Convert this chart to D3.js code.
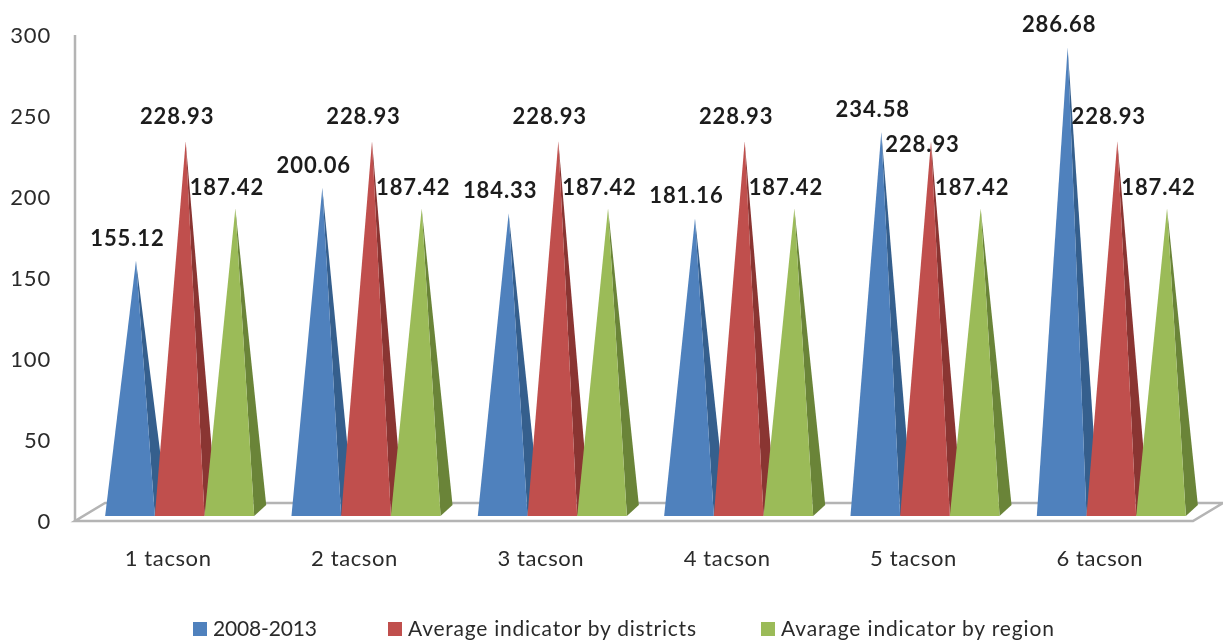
<!DOCTYPE html>
<html>
<head>
<meta charset="utf-8">
<script src="https://cdn.jsdelivr.net/npm/d3@7"></script>
<style>
    html, body { margin: 0; background: #fff; }
    svg { display: block; }
    text { font-family: Lato, sans-serif; fill: #2b2b2b; }
</style>
</head>
<body>
<svg></svg>
<script>
const [WIDTH, HEIGHT] = [1223, 641]

const categories = ['1 tacson', '2 tacson', '3 tacson', '4 tacson', '5 tacson', '6 tacson']
const seriesNames = ['2008-2013', 'Average indicator by districts', 'Avarage indicator by region']
const periodValues = [155.12, 200.06, 184.33, 181.16, 234.58, 286.68]
const districtValues = [228.93, 228.93, 228.93, 228.93, 228.93, 228.93]
const regionValues = [187.42, 187.42, 187.42, 187.42, 187.42, 187.42]
const yTicks = [0, 50, 100, 150, 200, 250, 300]

const seriesValues = [periodValues, districtValues, regionValues]
const frontColors = ['#4f81bd', '#c0504d', '#9bbb59']
const sideColors = ['#355f8d', '#8a3432', '#6a8439']

const svg = d3.select('svg')
    .attr('viewBox', '0 0 ' + WIDTH + ' ' + HEIGHT)
    .attr('width', WIDTH)
    .attr('height', HEIGHT)

// the picture is a soft upscale, a small blur gets closer to it
const blur = svg.append('defs').append('filter').attr('id', 'soft')
blur.append('feGaussianBlur').attr('stdDeviation', 0.6)

const root = svg.append('g').attr('filter', 'url(#soft)')

const LEFT = 75, FRONT_RIGHT = 1193
const DEPTH_X = 30, DEPTH_Y = 18

const x = d3.scaleBand().domain(categories).range([LEFT, FRONT_RIGHT])
    .paddingInner(0.2).paddingOuter(0.1)
const xSeries = d3.scaleBand().domain(d3.range(3)).range([0, x.bandwidth()])
const y = d3.scaleLinear().domain([0, 300]).range([521, 35])

// floor and wall
const floor = [[LEFT, y(0)], [FRONT_RIGHT, y(0)], [FRONT_RIGHT + DEPTH_X, y(0) - DEPTH_Y], [LEFT + DEPTH_X, y(0) - DEPTH_Y]]
root.append('path')
    .attr('d', d3.line()(floor) + 'Z')
    .attr('fill', '#fff')
    .attr('stroke', '#b4b4b4')
    .attr('stroke-width', 2.5)
root.append('line')
    .attr('x1', LEFT).attr('x2', LEFT)
    .attr('y1', y(300)).attr('y2', y(0))
    .attr('stroke', '#b4b4b4')
    .attr('stroke-width', 2.5)

// y axis labels
const yAxis = d3.axisLeft(y).tickValues(yTicks).tickSize(0).tickPadding(24).tickFormat(d3.format('d'))
const yAxisG = root.append('g').attr('transform', 'translate(' + LEFT + ',0)').call(yAxis)
yAxisG.select('.domain').remove()
yAxisG.selectAll('text').style('font-size', '22px').style('letter-spacing', '0.8px').style('font-family', 'Lato, sans-serif')

// category labels
root.selectAll('.cat')
    .data(categories)
    .join('text')
    .attr('class', 'cat')
    .attr('x', c => x(c) + x.bandwidth() / 2)
    .attr('y', 566)
    .attr('text-anchor', 'middle')
    .style('font-size', '22px')
    .style('letter-spacing', '0.6px')
    .text(c => c)

// pyramids, left to right so each one covers the side of the previous
const BAR_SHIFT = 11.5
const APEX_LIFT = 9
seriesValues.forEach((values, s) => {
    categories.forEach((c, i) => {
        const x0 = x(c) + xSeries(s) + BAR_SHIFT
        const x1 = x0 + xSeries.bandwidth()
        const base = y(0) - 5
        const apex = [(x0 + x1) / 2 + 6, y(values[i]) - APEX_LIFT]
        root.append('path')
            .attr('d', d3.line()([[x1, base], [x1 + 12, base - 11], apex]) + 'Z')
            .attr('fill', sideColors[s])
        root.append('path')
            .attr('d', d3.line()([[x0, base], [x1, base], apex]) + 'Z')
            .attr('fill', frontColors[s])
    })
})

// data labels
const labelLift = [24, 26, 22]
seriesValues.forEach((values, s) => {
    categories.forEach((c, i) => {
        const x0 = x(c) + xSeries(s) + BAR_SHIFT
        // the label of the red 5 tacson pyramid sits lower than the others
        const moved = s === 1 && i === 4
        root.append('text')
            .attr('x', x0 + xSeries.bandwidth() / 2 - 2.5)
            .attr('y', y(values[i]) - APEX_LIFT - labelLift[s] + (moved ? 28 : 0) + 1)
            .attr('dy', '0.36em')
            .attr('text-anchor', 'middle')
            .style('font-size', '22px')
            .style('font-weight', 700)
            .style('letter-spacing', '0.9px')
            .style('fill', '#1c1c1c')
            .text(values[i].toFixed(2))
    })
})

// legend
const legendX = [193, 388, 761]
const legendWidths = [104, 288, 273]
seriesNames.forEach((name, s) => {
    root.append('rect')
        .attr('x', legendX[s]).attr('y', 622)
        .attr('width', 14).attr('height', 14)
        .attr('fill', frontColors[s])
    root.append('text')
        .attr('x', legendX[s] + 20)
        .attr('y', 636)
        .attr('textLength', legendWidths[s])
        .style('font-size', '21px')
        .text(name)
})
</script>
</body>
</html>
